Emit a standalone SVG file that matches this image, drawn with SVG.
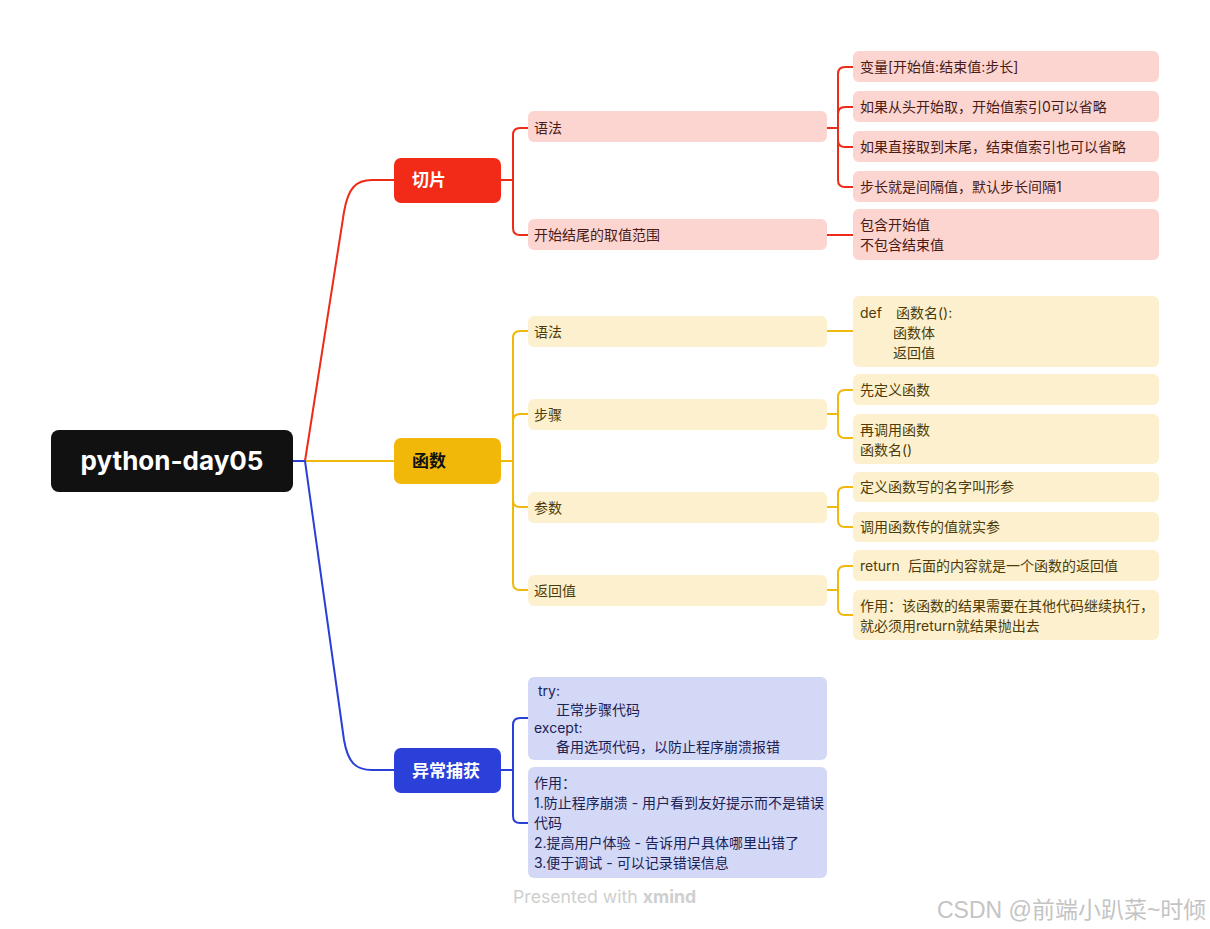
<svg xmlns="http://www.w3.org/2000/svg" width="1210" height="929" viewBox="0 0 1210 929">
<style>
text{font-family:Inter,"Noto Sans CJK SC","Noto Sans",sans-serif;}
.c{fill:none;stroke-width:2;stroke-linecap:round;stroke-linejoin:round;}
.cr{stroke:#EE2A18;}
.cy{stroke:#F0B70C;}
.cb{stroke:#2A3FD6;}
.mr{fill:#F22B18;}
.my{fill:#F1B80A;}
.mb{fill:#2A40D8;}
.lr{fill:#FCD5D1;}
.ly{fill:#FDF0CE;}
.lb{fill:#D3D8F6;}
.mt{font-size:17px;font-weight:700;fill:#fff;}
.t{font-size:14px;}
.tr{fill:#4a1b16;}
.ty{fill:#4d3c0a;}
.tb{fill:#1b2256;}
</style>
<rect width="1210" height="929" fill="#fff"/>
<g id="connectors">
<path class="c cr" d="M305,461 L344,212 C348,188 356,180 372,180 L394,180"/>
<path class="c cy" d="M305,461 H394"/>
<path class="c cb" d="M293,461 H305 L344,740 C348,763 356,770 372,770 L394,770"/>
<path class="c cr" d="M501,180 H513 M528,128 H520 Q513,128 513,135 V228 Q513,235 520,235 H528"/>
<path class="c cr" d="M827,128 H838 M853,67 H845 Q838,67 838,74 V180 Q838,187 845,187 H853 M838,128 V114 Q838,107 845,107 H853 M838,128 V140 Q838,147 845,147 H853"/>
<path class="c cr" d="M827,235 H853"/>
<path class="c cy" d="M501,461 H513 M528,331 H520 Q513,331 513,338 V583 Q513,590 520,590 H528 M513,421 Q513,414 520,414 H528 M513,500 Q513,507 520,507 H528"/>
<path class="c cy" d="M827,331 H853"/>
<path class="c cy" d="M827,414 H838 M853,390 H845 Q838,390 838,397 V431 Q838,438 845,438 H853"/>
<path class="c cy" d="M827,507 H838 M853,487 H845 Q838,487 838,494 V520 Q838,527 845,527 H853"/>
<path class="c cy" d="M827,590 H838 M853,566 H845 Q838,566 838,573 V608 Q838,615 845,615 H853"/>
<path class="c cb" d="M501,770 H513 M528,718 H520 Q513,718 513,725 V816 Q513,823 520,823 H528"/>
</g>
<g id="root">
<rect x="51" y="430" width="242" height="62" rx="8" fill="#111"/>
<text x="172" y="470" text-anchor="middle" font-size="26" font-weight="700" fill="#fff">python-day05</text>
</g>
<g id="qiepian">
<rect class="mr" x="394" y="158" width="107" height="45" rx="7"/>
<text class="mt" x="412" y="186">切片</text>
</g>
<g id="qp-yufa">
<rect class="lr" x="528" y="111" width="299" height="31" rx="6"/>
<text class="t tr" x="534" y="133">语法</text>
</g>
<g id="qp-fanwei">
<rect class="lr" x="528" y="219" width="299" height="31" rx="6"/>
<text class="t tr" x="534" y="240">开始结尾的取值范围</text>
</g>
<g id="qp-l1">
<rect class="lr" x="853" y="51" width="306" height="31" rx="6"/>
<text class="t tr" x="860" y="72">变量[开始值:结束值:步长]</text>
</g>
<g id="qp-l2">
<rect class="lr" x="853" y="91" width="306" height="31" rx="6"/>
<text class="t tr" x="860" y="112">如果从头开始取，开始值索引0可以省略</text>
</g>
<g id="qp-l3">
<rect class="lr" x="853" y="131" width="306" height="31" rx="6"/>
<text class="t tr" x="860" y="152">如果直接取到末尾，结束值索引也可以省略</text>
</g>
<g id="qp-l4">
<rect class="lr" x="853" y="171" width="306" height="31" rx="6"/>
<text class="t tr" x="860" y="192">步长就是间隔值，默认步长间隔1</text>
</g>
<g id="qp-l5">
<rect class="lr" x="853" y="209" width="306" height="51" rx="6"/>
<text class="t tr" x="860" y="230">包含开始值</text>
<text class="t tr" x="860" y="250">不包含结束值</text>
</g>
<g id="hanshu">
<rect class="my" x="394" y="438" width="107" height="46" rx="7"/>
<text class="mt" x="412" y="467" style="fill:#111">函数</text>
</g>
<g id="hs-yufa">
<rect class="ly" x="528" y="316" width="299" height="31" rx="6"/>
<text class="t ty" x="534" y="337">语法</text>
</g>
<g id="hs-buzhou">
<rect class="ly" x="528" y="399" width="299" height="31" rx="6"/>
<text class="t ty" x="534" y="420">步骤</text>
</g>
<g id="hs-canshu">
<rect class="ly" x="528" y="492" width="299" height="31" rx="6"/>
<text class="t ty" x="534" y="513">参数</text>
</g>
<g id="hs-fanhui">
<rect class="ly" x="528" y="575" width="299" height="31" rx="6"/>
<text class="t ty" x="534" y="596">返回值</text>
</g>
<g id="hs-def">
<rect class="ly" x="853" y="296" width="306" height="71" rx="6"/>
<text class="t ty" x="860" y="318">def</text>
<text class="t ty" x="896" y="318">函数名():</text>
<text class="t ty" x="893" y="338">函数体</text>
<text class="t ty" x="893" y="358">返回值</text>
</g>
<g id="hs-l1">
<rect class="ly" x="853" y="374" width="306" height="31" rx="6"/>
<text class="t ty" x="860" y="395">先定义函数</text>
</g>
<g id="hs-l2">
<rect class="ly" x="853" y="414" width="306" height="50" rx="6"/>
<text class="t ty" x="860" y="435">再调用函数</text>
<text class="t ty" x="860" y="455">函数名()</text>
</g>
<g id="hs-l3">
<rect class="ly" x="853" y="472" width="306" height="30" rx="6"/>
<text class="t ty" x="860" y="492">定义函数写的名字叫形参</text>
</g>
<g id="hs-l4">
<rect class="ly" x="853" y="512" width="306" height="30" rx="6"/>
<text class="t ty" x="860" y="532">调用函数传的值就实参</text>
</g>
<g id="hs-l5">
<rect class="ly" x="853" y="550" width="306" height="31" rx="6"/>
<text class="t ty" x="860" y="571">return</text>
<text class="t ty" x="908" y="571">后面的内容就是一个函数的返回值</text>
</g>
<g id="hs-l6">
<rect class="ly" x="853" y="590" width="306" height="50" rx="6"/>
<text class="t ty" x="860" y="611">作用：该函数的结果需要在其他代码继续执行，</text>
<text class="t ty" x="860" y="631">就必须用return就结果抛出去</text>
</g>
<g id="yichang">
<rect class="mb" x="394" y="748" width="107" height="45" rx="7"/>
<text class="mt" x="412" y="777">异常捕获</text>
</g>
<g id="yc-try">
<rect class="lb" x="528" y="677" width="299" height="83" rx="6"/>
<text class="t tb" x="538" y="696">try:</text>
<text class="t tb" x="556" y="715">正常步骤代码</text>
<text class="t tb" x="534" y="733">except:</text>
<text class="t tb" x="556" y="752">备用选项代码，以防止程序崩溃报错</text>
</g>
<g id="yc-zuoyong">
<rect class="lb" x="528" y="767" width="299" height="111" rx="6"/>
<text class="t tb" x="534" y="788">作用：</text>
<text class="t tb" x="534" y="808">1.防止程序崩溃 - 用户看到友好提示而不是错误</text>
<text class="t tb" x="534" y="828">代码</text>
<text class="t tb" x="534" y="848">2.提高用户体验 - 告诉用户具体哪里出错了</text>
<text class="t tb" x="534" y="868">3.便于调试 - 可以记录错误信息</text>
</g>
<text x="513" y="903" font-size="17.7" fill="#cfcfcf">Presented with <tspan font-weight="700">xmind</tspan></text>
<text x="937" y="918" font-size="23" fill="#c4c4c4" style="font-family:'Liberation Sans','Noto Sans CJK SC',sans-serif">CSDN @前端小趴菜~时倾</text>
</svg>
